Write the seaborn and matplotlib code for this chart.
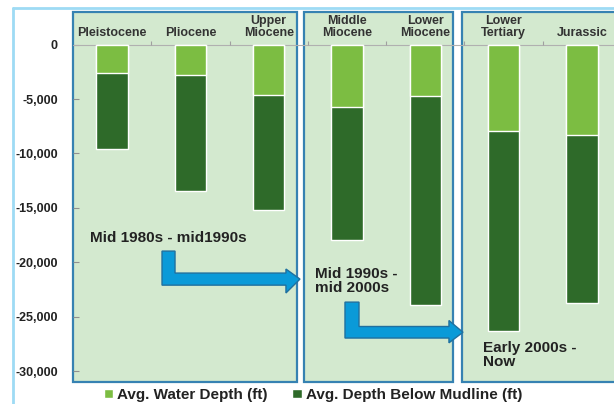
import matplotlib
matplotlib.use("Agg")
import matplotlib.pyplot as plt
from matplotlib.patches import Rectangle, Polygon, Patch
from matplotlib.lines import Line2D
import seaborn as sns
import pandas as pd

# Values (ft)
categories = ['Pleistocene', 'Pliocene', 'Upper\nMiocene', 'Middle\nMiocene',
              'Lower\nMiocene', 'Lower\nTertiary', 'Jurassic']
water_depth = [2650, 2750, 4670, 5770, 4760, 7970, 8330]
below_mudline = [6950, 10710, 10530, 12180, 19140, 18310, 15390]
y_ticks = [0, -5000, -10000, -15000, -20000, -25000, -30000]

light_green = '#7cbd42'
dark_green = '#2e6a29'
panel_fill = '#d3e9cf'
panel_edge = '#3682b2'
arrow_fill = '#0a9ad8'
arrow_edge = '#20709f'
text_color = '#222222'

sns.set_theme(style='white')
plt.rcParams['font.family'] = ['Liberation Sans', 'DejaVu Sans']

df = pd.DataFrame({
    'era': categories,
    'water': [-w for w in water_depth],
    'total': [-(w + b) for w, b in zip(water_depth, below_mudline)],
})

fig = plt.figure(figsize=(6.14, 4.04), dpi=100)
ax = fig.add_axes([73 / 614, 22 / 404, 541 / 614, 370 / 404])
ax.set_facecolor('none')

# panels behind the bars (era groups)
panels = [(-0.5, 2.361), (2.45, 4.353), (4.468, 7.2)]
for x0, x1 in panels:
    ax.add_patch(Rectangle((x0, -31000), x1 - x0, 34000, facecolor=panel_fill,
                           edgecolor=panel_edge, lw=1.6, zorder=0, clip_on=False))

sns.barplot(data=df, x='era', y='total', color=dark_green, width=0.4,
            saturation=1, ax=ax, zorder=2)
sns.barplot(data=df, x='era', y='water', color=light_green, width=0.4,
            saturation=1, ax=ax, zorder=3)

ax.axhline(0, color='#b0b0b0', lw=0.8, zorder=1)
ax.vlines([i + 0.5 for i in range(len(categories) - 1)], 0, 300,
          color='#a0a0a0', lw=0.8, zorder=1)

ax.set_xlim(-0.5, 6.41)
ax.set_ylim(-31000, 3000)
ax.set_xlabel('')
ax.set_ylabel('')
ax.set_xticks([])
ax.set_yticks(y_ticks)
ax.set_yticklabels([f'{v:,}' for v in y_ticks], fontsize=9,
                   fontweight='bold', color=text_color)
ax.tick_params(axis='y', direction='in', length=4, width=0.8,
               color='#909090', pad=11, left=True)
for s in ax.spines.values():
    s.set_visible(False)

for i, name in enumerate(categories):
    ax.text(i, 550, name, ha='center', va='bottom', fontsize=9,
            fontweight='bold', color='#333333', linespacing=1.0, zorder=4)


def elbow_arrow(sx0, sx1, ytop, bt, bb, hx, ht, hb, tip):
    pts = [(sx0, ytop), (sx1, ytop), (sx1, bt), (hx, bt), (hx, ht),
           (tip, (bt + bb) / 2), (hx, hb), (hx, bb), (sx0, bb)]
    ax.add_patch(Polygon(pts, closed=True, facecolor=arrow_fill,
                         edgecolor=arrow_edge, lw=1, zorder=5, clip_on=False))


elbow_arrow(0.637, 0.803, -18970, -20990, -22100, 2.22, -20620, -22820, 2.399)
elbow_arrow(2.974, 3.153, -23660, -25900, -26960, 4.302, -25350, -27400, 4.481)

ax.text(-0.283, -17780, 'Mid 1980s - mid1990s', ha='left', va='center',
        fontsize=11, fontweight='bold', color=text_color, zorder=6)
ax.text(2.59, -21730, 'Mid 1990s -\nmid 2000s', ha='left', va='center',
        fontsize=11, fontweight='bold', color=text_color, linespacing=1.05, zorder=6)
ax.text(4.736, -28530, 'Early 2000s -\nNow', ha='left', va='center',
        fontsize=11, fontweight='bold', color=text_color, linespacing=1.05, zorder=6)

# light blue outer frame (left and top edges visible)
fig.add_artist(Line2D([13 / 614, 13 / 614], [0, 1 - 8 / 404],
                      color='#9edbf4', lw=2, transform=fig.transFigure))
fig.add_artist(Line2D([13 / 614, 1], [1 - 8 / 404, 1 - 8 / 404],
                      color='#9edbf4', lw=2, transform=fig.transFigure))

handles = [Patch(facecolor=light_green, label='Avg. Water Depth (ft)'),
           Patch(facecolor=dark_green, label='Avg. Depth Below Mudline (ft)')]
fig.legend(handles=handles, loc='center', bbox_to_anchor=(0.51, 9 / 404),
           ncol=2, frameon=False, handlelength=0.6, handleheight=0.6,
           handletextpad=0.3, columnspacing=1.6,
           prop={'size': 11, 'weight': 'bold'}, labelcolor=text_color)

fig.savefig('out.png', dpi=100)
